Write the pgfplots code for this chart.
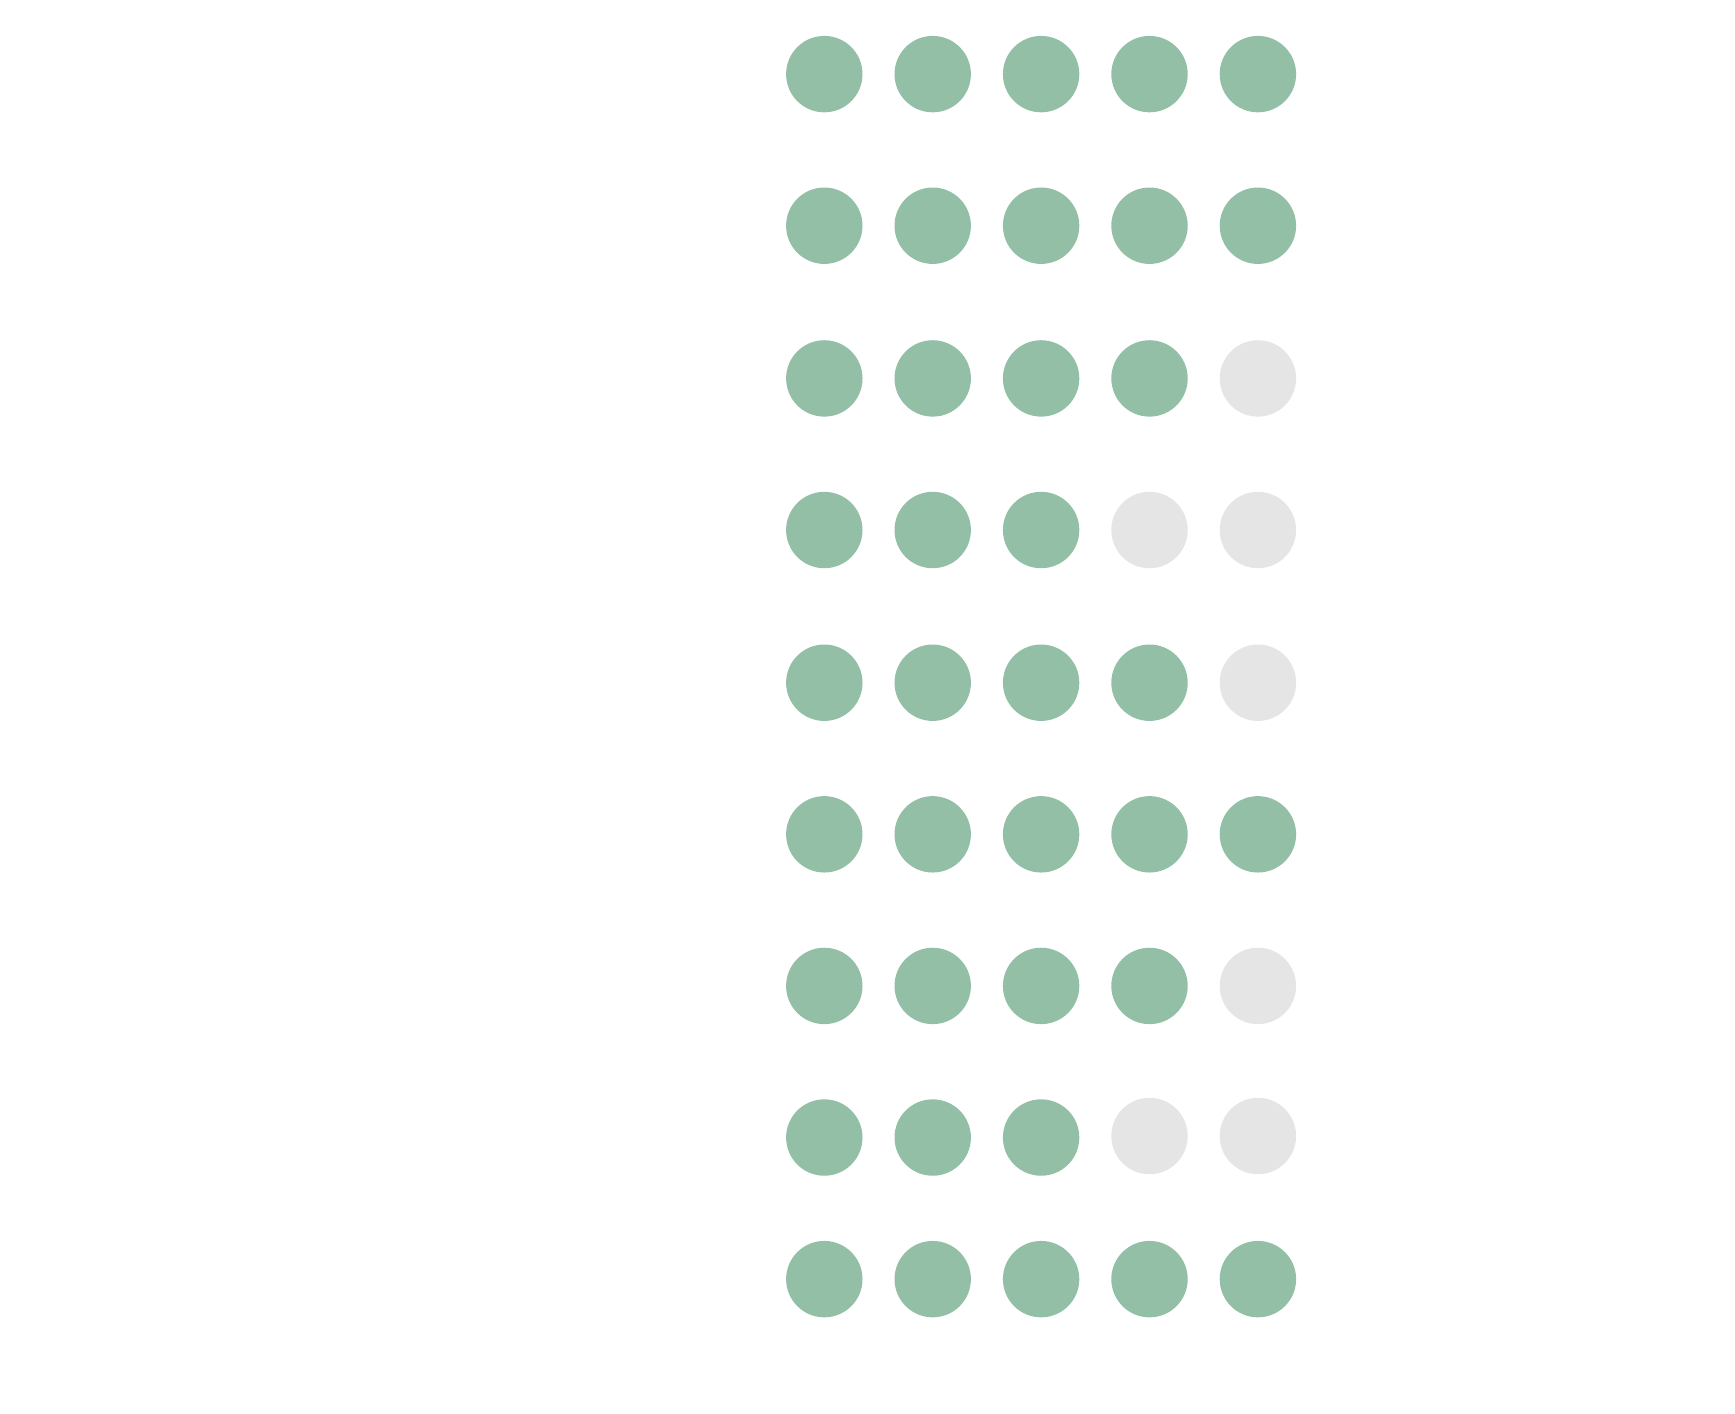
\documentclass[border=0pt]{standalone}
\usepackage{pgfplots}
\pgfplotsset{compat=1.18}
\usepackage{pgfplotstable}
\definecolor{dotgreen}{RGB}{148,191,167}
\definecolor{dotgray}{RGB}{229,229,229}
% x, y in pixel units of the 1735x1413 picture (y from top)
\pgfplotstableread{
x y
824.3 74.1
932.7 74.1
1041.1 74.1
1149.5 74.1
1257.9 74.1
824.3 225.7
932.7 225.7
1041.1 225.7
1149.5 225.7
1257.9 225.7
824.3 378.4
932.7 378.4
1041.1 378.4
1149.5 378.4
824.3 530.0
932.7 530.0
1041.1 530.0
824.3 682.7
932.7 682.7
1041.1 682.7
1149.5 682.7
824.3 834.3
932.7 834.3
1041.1 834.3
1149.5 834.3
1257.9 834.3
824.3 985.9
932.7 985.9
1041.1 985.9
1149.5 985.9
824.3 1137.5
932.7 1137.5
1041.1 1137.5
824.3 1279.1
932.7 1279.1
1041.1 1279.1
1149.5 1279.1
1257.9 1279.1
}\greendots
\pgfplotstableread{
x y
1257.9 378.4
1149.5 530.0
1257.9 530.0
1257.9 682.7
1257.9 985.9
1149.5 1136.0
1257.9 1136.0
}\graydots
\begin{document}
\begin{tikzpicture}
\begin{axis}[
  width=17.35cm, height=14.13cm, scale only axis,
  xmin=0, xmax=1735, ymin=0, ymax=1413, y dir=reverse,
  axis lines=none, ticks=none, clip=false,
]
\path (rel axis cs:0,0) rectangle (rel axis cs:1,1);
\addplot[only marks, mark=*, mark size=3.75mm, mark options={fill=dotgreen, draw=dotgreen}] table[x=x,y=y] {\greendots};
\addplot[only marks, mark=*, mark size=3.75mm, mark options={fill=dotgray, draw=dotgray}] table[x=x,y=y] {\graydots};
\end{axis}
\end{tikzpicture}
\end{document}
